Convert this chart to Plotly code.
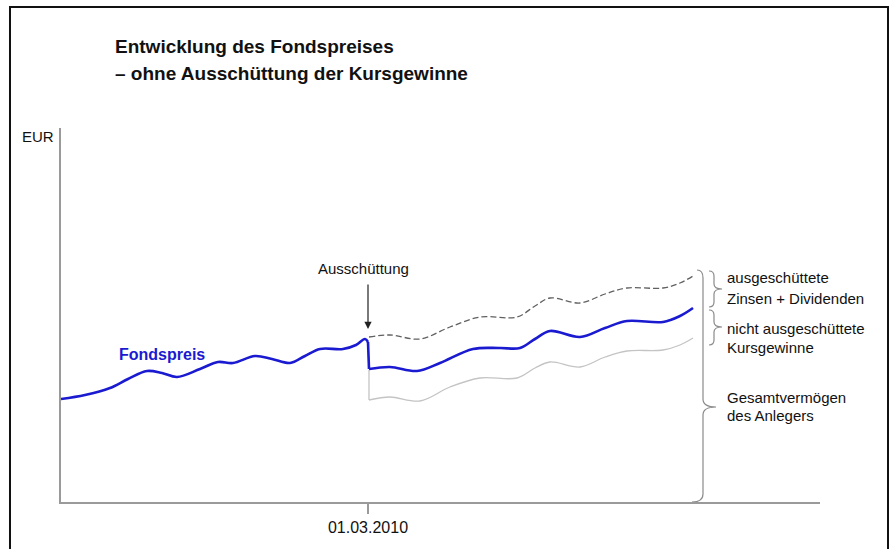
import plotly.graph_objects as go

# ---- data (chart units: x = time position, y = EUR level) ----
blue_pre_x = [0, 24, 49, 67, 86, 101, 116, 139, 157, 172, 194, 211, 229, 244, 259, 282, 295, 304, 307]
blue_pre_y = [103, 107, 114, 123, 131, 129, 125, 133, 140, 139, 146, 143, 139, 146, 153, 153, 157, 163, 160]
drop_x = [307, 308]
drop_y = [160, 133]
blue_post_x = [308, 329, 356, 379, 412, 439, 459, 474, 489, 519, 544, 566, 602, 619, 632]
blue_post_y = [133, 135, 131, 139, 153, 154, 154, 163, 171, 165, 174, 181, 180, 186, 194]
dash_x = [308, 329, 359, 389, 419, 456, 474, 489, 519, 544, 566, 602, 619, 632]
dash_y = [165, 167, 163, 175, 185, 185, 196, 204, 199, 208, 214, 214, 219, 226]
gray_drop_x = [308, 308]
gray_drop_y = [132, 102]
gray_x = [308, 329, 359, 389, 419, 456, 474, 489, 519, 544, 566, 602, 619, 632]
gray_y = [102, 105, 101, 115, 124, 124, 134, 140, 135, 145, 151, 152, 157, 164]

tick_vals = [307]
tick_text = ["01.03.2010"]

title_lines = ["Entwicklung des Fondspreises", "– ohne Ausschüttung der Kursgewinne"]
right_labels = [
    ("ausgeschüttete", 225), ("Zinsen + Dividenden", 204),
    ("nicht ausgeschüttete", 174), ("Kursgewinne", 155),
    ("Gesamtvermögen", 105), ("des Anlegers", 87),
]

FONT = "Liberation Sans, Arial, sans-serif"
BLUE = "#1a1ad0"

fig = go.Figure()
fig.add_trace(go.Scatter(x=gray_x, y=gray_y, mode="lines",
                         line=dict(color="#c4c4c4", width=1.3, shape="spline"), hoverinfo="skip"))
fig.add_trace(go.Scatter(x=gray_drop_x, y=gray_drop_y, mode="lines",
                         line=dict(color="#c4c4c4", width=1.3), hoverinfo="skip"))
fig.add_trace(go.Scatter(x=dash_x, y=dash_y, mode="lines",
                         line=dict(color="#606060", width=1.3, dash="6px,3px", shape="spline"), hoverinfo="skip"))
fig.add_trace(go.Scatter(x=blue_pre_x, y=blue_pre_y, mode="lines",
                         line=dict(color=BLUE, width=2.6, shape="spline"), hoverinfo="skip"))
fig.add_trace(go.Scatter(x=drop_x, y=drop_y, mode="lines",
                         line=dict(color=BLUE, width=2.6), hoverinfo="skip"))
fig.add_trace(go.Scatter(x=blue_post_x, y=blue_post_y, mode="lines",
                         line=dict(color=BLUE, width=2.6, shape="spline"), hoverinfo="skip"))


def brace(x, yt, yb, ym, w, ct, cb, r):
    return (f"M {x-ct},{yt} Q {x},{yt} {x},{yt-r} L {x},{ym+r} "
            f"Q {x},{ym} {x+w},{ym} Q {x},{ym} {x},{ym-r} L {x},{yb+r} "
            f"Q {x},{yb} {x-cb},{yb}")


end_dash = dash_y[-1]
end_blue = blue_post_y[-1]
end_gray = gray_y[-1]
bx = blue_post_x[-1]
shapes = [
    dict(type="path", xref="x", yref="y",
         path=brace(bx + 21, end_dash + 5, end_blue + 1, (end_dash + end_blue) / 2 + 3, 8, 5, 5, 5),
         line=dict(color="#8a8a8a", width=1.2)),
    dict(type="path", xref="x", yref="y",
         path=brace(bx + 21, end_blue - 2, end_gray - 7, (end_blue + end_gray) / 2 - 4, 8, 5, 5, 5),
         line=dict(color="#8a8a8a", width=1.2)),
    dict(type="path", xref="x", yref="y",
         path=brace(bx + 10, end_dash + 6, 0, 95, 13, 6, 11, 8),
         line=dict(color="#8a8a8a", width=1.2)),
    # outer frame
    dict(type="rect", xref="paper", yref="paper", x0=-0.0672, x1=1.0896, y0=-0.3, y1=1.3235,
         line=dict(color="#111111", width=2), fillcolor="rgba(0,0,0,0)", layer="below"),
]

annotations = [
    dict(x=0.0685, y=1.2166, xref="paper", yref="paper", text="<b>" + title_lines[0] + "</b>",
         showarrow=False, xanchor="left", yanchor="middle",
         font=dict(family=FONT, size=19, color="#111")),
    dict(x=0.0685, y=1.147, xref="paper", yref="paper", text="<b>" + title_lines[1] + "</b>",
         showarrow=False, xanchor="left", yanchor="middle",
         font=dict(family=FONT, size=19, color="#111")),
    dict(x=-0.054, y=0.9786, xref="paper", yref="paper", text="EUR", showarrow=False,
         xanchor="left", yanchor="middle", font=dict(family=FONT, size=15, color="#111")),
    dict(x=101, y=148, xref="x", yref="y", text="<b>Fondspreis</b>", showarrow=False,
         xanchor="center", yanchor="middle", font=dict(family=FONT, size=16, color=BLUE)),
    dict(x=302, y=234, xref="x", yref="y", text="Ausschüttung", showarrow=False,
         xanchor="center", yanchor="middle", font=dict(family=FONT, size=15, color="#111")),
    dict(x=307, y=173, ax=307, ay=219, xref="x", yref="y", axref="x", ayref="y", text="",
         showarrow=True, arrowhead=2, arrowsize=1.2, arrowwidth=1.2, arrowcolor="#222"),
]
for txt, yv in right_labels:
    annotations.append(dict(x=664, y=yv, xref="x", yref="y", text=txt, showarrow=False,
                            xanchor="left", yanchor="middle",
                            font=dict(family=FONT, size=15, color="#111")))

fig.update_layout(
    width=895, height=549,
    margin=dict(l=61, r=75, t=128, b=47),
    paper_bgcolor="white", plot_bgcolor="white",
    showlegend=False,
    shapes=shapes, annotations=annotations,
    xaxis=dict(range=[0, 759], showgrid=False, zeroline=False, showline=True,
               linecolor="#9a9a9a", linewidth=2, ticks="outside", ticklen=10,
               tickcolor="#9a9a9a", tickwidth=1.5, tickvals=tick_vals, ticktext=tick_text,
               tickfont=dict(family=FONT, size=16, color="#111"), fixedrange=True),
    yaxis=dict(range=[0, 374], showgrid=False, zeroline=False, showline=True,
               linecolor="#9a9a9a", linewidth=1.5, showticklabels=False, ticks="",
               fixedrange=True),
)

fig.write_html("out.html", config={"displayModeBar": False},
               post_script="document.body.style.margin='0';")
